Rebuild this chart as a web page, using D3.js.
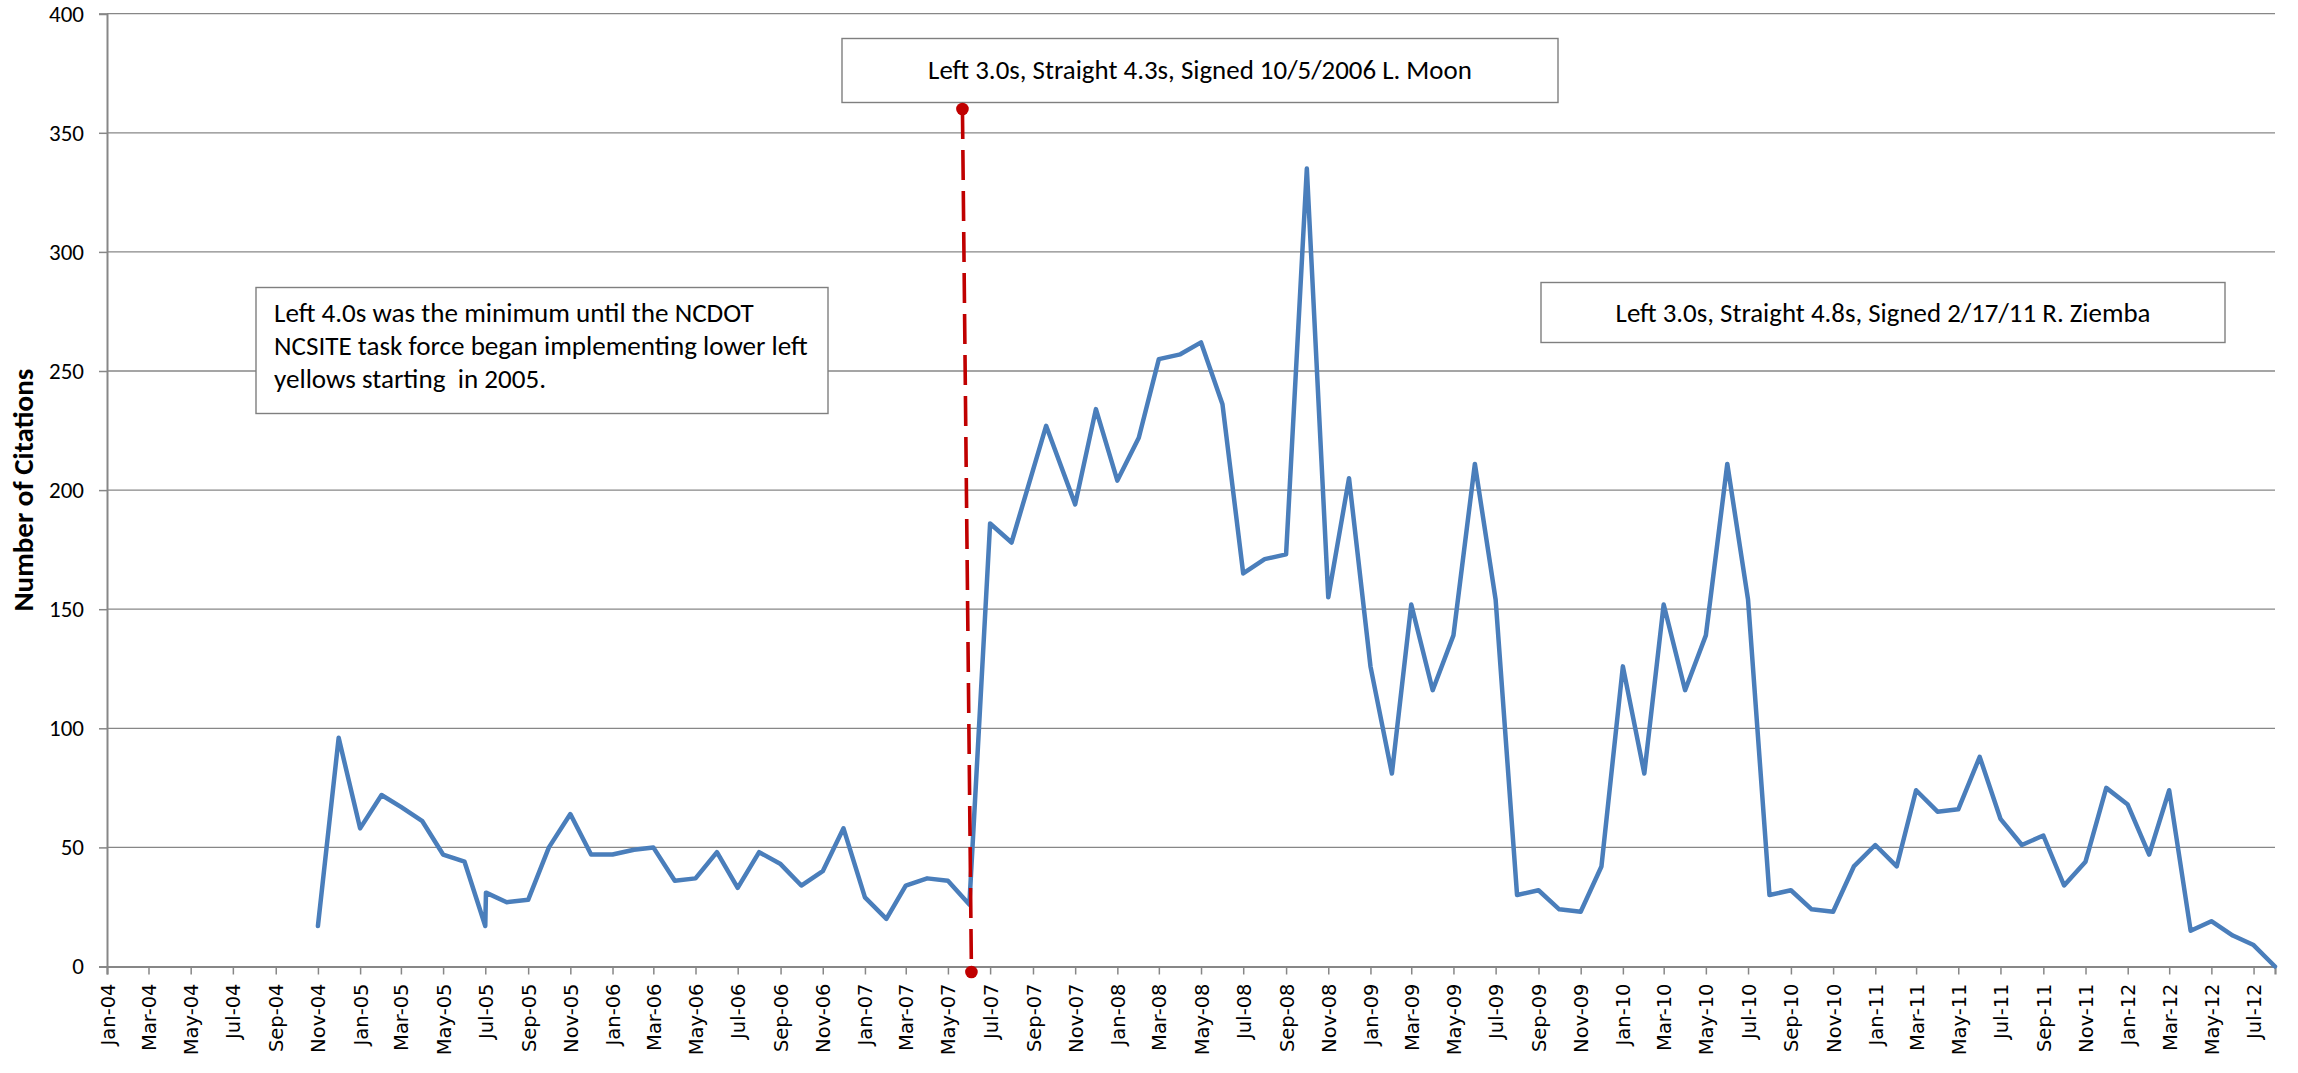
<!DOCTYPE html>
<html>
<head>
<meta charset="utf-8">
<script src="https://cdn.jsdelivr.net/npm/d3@7"></script>
<style>
  html, body { margin: 0; padding: 0; background: #ffffff; }
  svg { display: block; }
</style>
</head>
<body>
<svg id="chart" width="2298" height="1073"></svg>
<script>
// ---------------- DATA ----------------
const dates = [
  "2004-11-01","2004-12-01","2005-01-01","2005-02-01","2005-03-01","2005-04-01","2005-05-01","2005-06-01",
  "2005-07-01","2005-07-02","2005-08-01","2005-09-01","2005-10-01","2005-11-01","2005-12-01",
  "2006-01-01","2006-02-01","2006-03-01","2006-04-01","2006-05-01","2006-06-01","2006-07-01","2006-08-01",
  "2006-09-01","2006-10-01","2006-11-01","2006-12-01",
  "2007-01-01","2007-02-01","2007-03-01","2007-04-01","2007-05-01","2007-06-01","2007-07-01","2007-08-01",
  "2007-09-20","2007-11-01","2007-12-01",
  "2008-01-01","2008-02-01","2008-03-01","2008-04-01","2008-05-01","2008-06-01","2008-07-01","2008-08-01",
  "2008-09-01","2008-10-01","2008-11-01","2008-12-01",
  "2009-01-01","2009-02-01","2009-03-01","2009-04-01","2009-05-01","2009-06-01","2009-07-01","2009-08-01",
  "2009-09-01","2009-10-01","2009-11-01","2009-12-01",
  "2010-01-01","2010-02-01","2010-03-01","2010-04-01","2010-05-01","2010-06-01","2010-07-01","2010-08-01",
  "2010-09-01","2010-10-01","2010-11-01","2010-12-01",
  "2011-01-01","2011-02-01","2011-03-01","2011-04-01","2011-05-01","2011-06-01","2011-07-01","2011-08-01",
  "2011-09-01","2011-10-01","2011-11-01","2011-12-01",
  "2012-01-01","2012-02-01","2012-03-01","2012-04-01","2012-05-01","2012-06-01","2012-07-01","2012-08-01"
];
const citations = [
  17, 96, 58, 72, 67, 61, 47, 44,
  17, 31, 27, 28, 50, 64, 47,
  47, 49, 50, 36, 37, 48, 33, 48,
  43, 34, 40, 58,
  29, 20, 34, 37, 36, 26, 186, 178,
  227, 194, 234,
  204, 222, 255, 257, 262, 236, 165, 171,
  173, 335, 155, 205,
  126, 81, 152, 116, 139, 211, 154, 30,
  32, 24, 23, 42,
  126, 81, 152, 116, 139, 211, 154, 30,
  32, 24, 23, 42,
  51, 42, 74, 65, 66, 88, 62, 51,
  55, 34, 44, 75,
  68, 47, 74, 15, 19, 13, 9, 0
];
const xDomain = ["2004-01-01", "2012-08-01"];
const yTicks = [0, 50, 100, 150, 200, 250, 300, 350, 400];
const yLabel = "Number of Citations";

// red signal-change marker (top dot, bottom dot)
const markerDates = ["2007-05-22", "2007-06-04"];
const markerValues = [360, -2.3];

// annotation boxes
const noteTop = "Left 3.0s, Straight 4.3s, Signed 10/5/2006 L. Moon";
const noteRight = "Left 3.0s, Straight 4.8s, Signed 2/17/11 R. Ziemba";
const noteLeft = [
  "Left 4.0s was the minimum until the NCDOT",
  "NCSITE task force began implementing lower left",
  "yellows starting  in 2005."
];

// ---------------- LAYOUT ----------------
const parse = d3.timeParse("%Y-%m-%d");
const svg = d3.select("#chart");
const plotL = 107, plotR = 2275, plotT = 13.7, plotB = 966.5;
const bodyFont = "Carlito, Calibri, Lato, sans-serif";

const x = d3.scaleTime().domain(xDomain.map(parse)).range([plotL, plotR]);
const y = d3.scaleLinear().domain([0, 400]).range([plotB, plotT]);

const gridColor = "#878787";

function fitWidth(sel, target) {
  const w = sel.node().getComputedTextLength();
  const fs = parseFloat(sel.attr("font-size"));
  if (w > 0) sel.attr("font-size", fs * target / w);
}

// gridlines
svg.append("g")
  .selectAll("line")
  .data(yTicks.filter(d => d > 0))
  .join("line")
  .attr("x1", plotL).attr("x2", plotR)
  .attr("y1", d => y(d)).attr("y2", d => y(d))
  .attr("stroke", gridColor).attr("stroke-width", 1.3);

// y axis
const yAxis = svg.append("g")
  .attr("transform", `translate(${plotL},0)`)
  .call(d3.axisLeft(y).tickValues(yTicks).tickSize(8).tickPadding(15).tickFormat(d3.format("d")));
yAxis.select(".domain").attr("stroke", gridColor).attr("stroke-width", 2);
yAxis.selectAll(".tick line").attr("stroke", gridColor).attr("stroke-width", 1.5);
const yTickText = yAxis.selectAll(".tick text")
  .attr("font-family", bodyFont).attr("font-size", 23).attr("fill", "#000");
{
  const widest = yTickText.filter(d => d === 400);
  const w = widest.node().getComputedTextLength();
  if (w > 0) yTickText.attr("font-size", 23 * 35 / w);
}

// x axis
const xAxis = svg.append("g")
  .attr("transform", `translate(0,${plotB})`)
  .call(d3.axisBottom(x).ticks(d3.timeMonth.every(2)).tickSize(8).tickFormat(d3.timeFormat("%b-%y")));
xAxis.select(".domain").attr("stroke", gridColor).attr("stroke-width", 2.2);
xAxis.selectAll(".tick line").attr("stroke", gridColor).attr("stroke-width", 1.5);
xAxis.selectAll(".tick text")
  .attr("font-family", "DejaVu Sans, Verdana, sans-serif")
  .attr("font-size", 19.5)
  .attr("fill", "#000")
  .attr("text-anchor", "end")
  .attr("transform", "rotate(-90)")
  .attr("x", -17)
  .attr("y", 0)
  .attr("dy", "0.36em");

// y axis label
const yl = svg.append("text")
  .attr("transform", `translate(33,${(plotT + plotB) / 2}) rotate(-90)`)
  .attr("text-anchor", "middle")
  .attr("font-family", bodyFont)
  .attr("font-weight", "bold")
  .attr("font-size", 26)
  .attr("fill", "#000")
  .text(yLabel);
fitWidth(yl, 243);

// data line
const series = dates.map((d, i) => ({ date: parse(d), value: citations[i] }));
svg.append("path")
  .datum(series)
  .attr("fill", "none")
  .attr("stroke", "#4A7EBB")
  .attr("stroke-width", 4.5)
  .attr("stroke-linejoin", "round")
  .attr("stroke-linecap", "round")
  .attr("d", d3.line().x(d => x(d.date)).y(d => y(d.value)));

// annotation boxes
function box(x0, y0, w, h) {
  svg.append("rect")
    .attr("x", x0).attr("y", y0).attr("width", w).attr("height", h)
    .attr("fill", "#fff").attr("stroke", "#7f7f7f").attr("stroke-width", 1.4);
}

box(256, 287.5, 572, 126);
const leftTexts = svg.append("g").selectAll("text")
  .data(noteLeft).join("text")
  .attr("x", 274)
  .attr("y", (d, i) => 321.7 + i * 33.3)
  .attr("font-family", bodyFont).attr("font-size", 24).attr("fill", "#000")
  .style("white-space", "pre")
  .text(d => d);
{
  const n = leftTexts.filter((d, i) => i === 1);
  const w = n.node().getComputedTextLength();
  if (w > 0) leftTexts.attr("font-size", 24 * 534 / w);
}

box(842, 38.5, 716, 64);
const tt = svg.append("text")
  .attr("x", 1200).attr("y", 79.3)
  .attr("text-anchor", "middle")
  .attr("font-family", bodyFont).attr("font-size", 24).attr("fill", "#000")
  .text(noteTop);
fitWidth(tt, 544);

box(1541, 282.5, 684, 60);
const rt = svg.append("text")
  .attr("x", 1883).attr("y", 321.7)
  .attr("text-anchor", "middle")
  .attr("font-family", bodyFont).attr("font-size", 24).attr("fill", "#000")
  .text(noteRight);
fitWidth(rt, 535);

// red marker line
const mk = markerDates.map((d, i) => ({ date: parse(d), value: markerValues[i] }));
svg.append("path")
  .datum(mk)
  .attr("fill", "none")
  .attr("stroke", "#C00000")
  .attr("stroke-width", 3.6)
  .attr("stroke-dasharray", "30,11")
  .attr("d", d3.line().x(d => x(d.date)).y(d => y(d.value)));
svg.append("g").selectAll("circle")
  .data(mk).join("circle")
  .attr("cx", d => x(d.date)).attr("cy", d => y(d.value))
  .attr("r", 6.3)
  .attr("fill", "#C00000");
</script>
</body>
</html>
